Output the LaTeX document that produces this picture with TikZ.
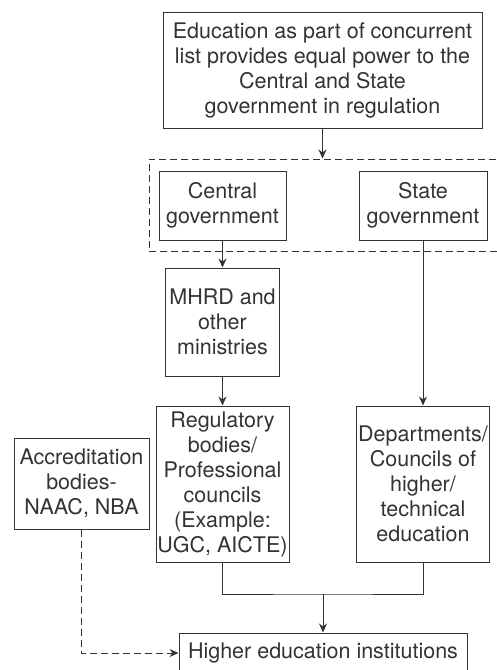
\documentclass[tikz,border=0pt]{standalone}
\usepackage{fontspec}
\setmainfont{TeX Gyre Heros}
\usepackage{xcolor}
\usetikzlibrary{arrows.meta}
\definecolor{ink}{HTML}{333333}
\begin{document}
\begin{tikzpicture}[x=1pt,y=-1pt,>={Stealth[length=9pt,width=8pt]},line width=1pt,draw=ink,
box/.style={draw=ink,align=center,inner sep=0pt,text=ink,font=\fontsize{21.5}{25}\selectfont},
dashbox/.style={draw=ink,dash pattern=on 7pt off 4pt}]
\useasboundingbox (0,0) rectangle (496,670);
\node[box,minimum width=319pt,minimum height=116pt](top)at(322.5,70){Education as part of concurrent\\list provides equal power to the\\Central and State\\government in regulation};
\node[dashbox,minimum width=353pt,minimum height=92pt](govt)at(325.5,205){};
\node[box,minimum width=127pt,minimum height=69pt](central)at(222.5,205.5){Central\\government};
\node[box,minimum width=128pt,minimum height=69pt](state)at(423,205.5){State\\government};
\node[box,minimum width=114pt,minimum height=108pt](mhrd)at(222.5,322){MHRD and\\other\\ministries};
\node[box,minimum width=133pt,minimum height=156pt](reg)at(222.5,484){Regulatory\\bodies/\\Professional\\councils\\(Example:\\UGC, AICTE)};
\node[box,minimum width=133pt,minimum height=156pt](dept)at(423,484){Departments/\\Councils of\\higher/\\technical\\education};
\node[box,minimum width=135pt,minimum height=91pt](accr)at(81.5,483.5){Accreditation\\bodies-\\NAAC, NBA};
\node[box,minimum width=288pt,minimum height=40pt](hei)at(323,653){Higher education institutions};
\coordinate(join)at(323,594);
\draw[->](top.south)--(top.south|-govt.north);
\draw[->](central)--(mhrd);
\draw[->](mhrd)--(reg);
\draw[->](state)--(dept);
\draw(reg.south)|-(join)-|(dept.south);
\draw[->](join)--(hei);
\draw[->,dashbox](accr.south)|-(hei.west);
\end{tikzpicture}
\end{document}
